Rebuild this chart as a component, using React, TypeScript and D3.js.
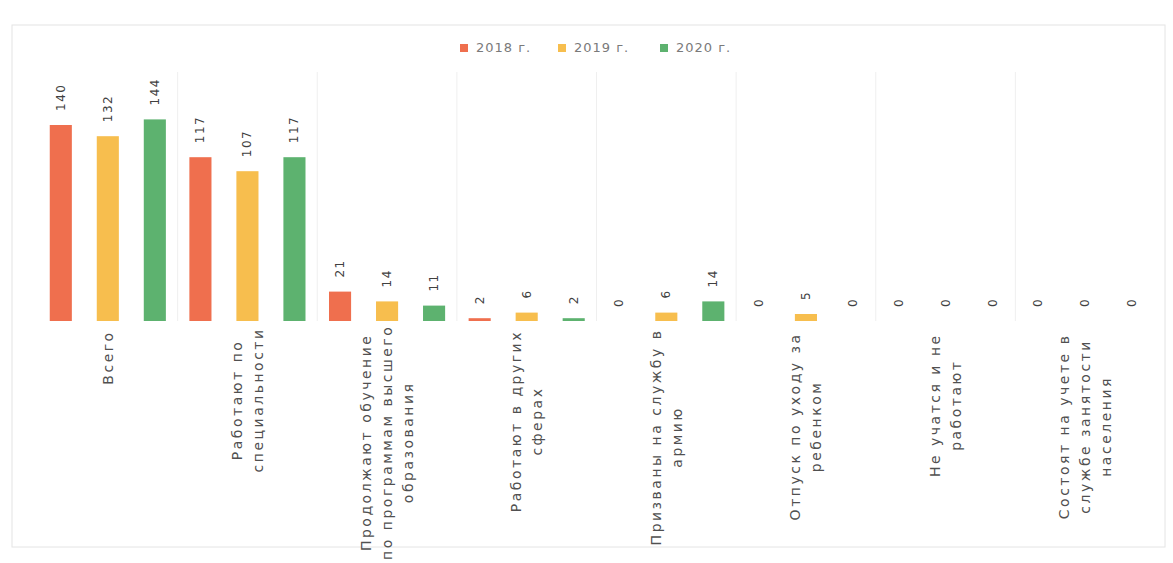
import React from "react";
import * as d3 from "d3";

const categories: string[][] = [
  ["Всего"],
  ["Работают по", "специальности"],
  ["Продолжают обучение", "по программам высшего", "образования"],
  ["Работают в других", "сферах"],
  ["Призваны на службу в", "армию"],
  ["Отпуск по уходу за", "ребенком"],
  ["Не учатся и не", "работают"],
  ["Состоят на учете в", "службе занятости", "населения"],
];
const seriesNames = ["2018 г.", "2019 г.", "2020 г."];
const values2018 = [140, 117, 21, 2, 0, 0, 0, 0];
const values2019 = [132, 107, 14, 6, 6, 5, 0, 0];
const values2020 = [144, 117, 11, 2, 14, 0, 0, 0];
const colors = ["#EF6F4E", "#F7BE4E", "#5DB26F"];

const W = 1173;
const H = 563;

export default function App() {
  const series = [values2018, values2019, values2020];
  const keys = categories.map((c) => c.join(" "));
  const x = d3.scaleBand<string>().domain(keys).range([38, 1155]).padding(0);
  const xi = d3
    .scaleBand<string>()
    .domain(seriesNames)
    .range([0, x.bandwidth()])
    .paddingInner(0.53)
    .paddingOuter(0.25);
  const y = d3.scaleLinear().domain([0, 160]).range([321, 97]);
  const font = "'DejaVu Sans', sans-serif";
  const boundaries = keys.map((k) => x(k)!).concat([x.range()[1]]);

  return (
    <svg
      width={W}
      height={H}
      style={{ position: "absolute", left: 0, top: 0, background: "#fff" }}
    >
      <rect x={12} y={25} width={1153} height={522} fill="#fff" stroke="#e4e4e4" />
      {boundaries.slice(1, -1).map((b, i) => (
        <line key={i} x1={b} x2={b} y1={72} y2={y(0)} stroke="#efefef" strokeWidth={1} />
      ))}
      {/* legend */}
      {seriesNames.map((s, i) => {
        const lx = [460, 558, 660][i];
        return (
          <g key={s}>
            <rect x={lx} y={44} width={8} height={8} fill={colors[i]} />
            <text
              x={lx + 16}
              y={52}
              fontSize={13}
              fill="#7a7a7a"
              fontFamily={font}
              letterSpacing={1}
            >
              {s}
            </text>
          </g>
        );
      })}
      {/* bars */}
      {keys.map((k, ci) =>
        series.map((vals, si) => {
          const v = vals[ci];
          const bx = x(k)! + xi(seriesNames[si])!;
          const bw = xi.bandwidth();
          const top = y(v);
          const h = Math.max(y(0) - top, v > 0 ? 2 : 0);
          const cx = bx + bw / 2;
          const ly = y(0) - h - 14;
          return (
            <g key={k + si}>
              {v > 0 && <rect x={bx} y={y(0) - h} width={bw} height={h} fill={colors[si]} />}
              <text
                transform={`translate(${cx + 4},${ly}) rotate(-90)`}
                fontSize={12}
                fill="#404040"
                fontFamily={font}
                letterSpacing={1.5}
                textAnchor="start"
              >
                {v}
              </text>
            </g>
          );
        })
      )}
      {/* category labels */}
      {categories.map((lines, ci) => {
        const cx = x(keys[ci])! + x.bandwidth() / 2;
        const lh = 21;
        const n = lines.length;
        const top = 331;
        const maxChars = Math.max(...lines.map((l) => l.length));
        const blockLen = maxChars * 10.6;
        return (
          <g key={ci}>
            {lines.map((ln, li) => {
              const lx = cx + (li - (n - 1) / 2) * lh + 5;
              return (
                <text
                  key={li}
                  transform={`translate(${lx},${top + blockLen / 2}) rotate(-90)`}
                  fontSize={14}
                  fill="#505050"
                  fontFamily={font}
                  letterSpacing={2.5}
                  textAnchor="middle"
                >
                  {ln}
                </text>
              );
            })}
          </g>
        );
      })}
    </svg>
  );
}
